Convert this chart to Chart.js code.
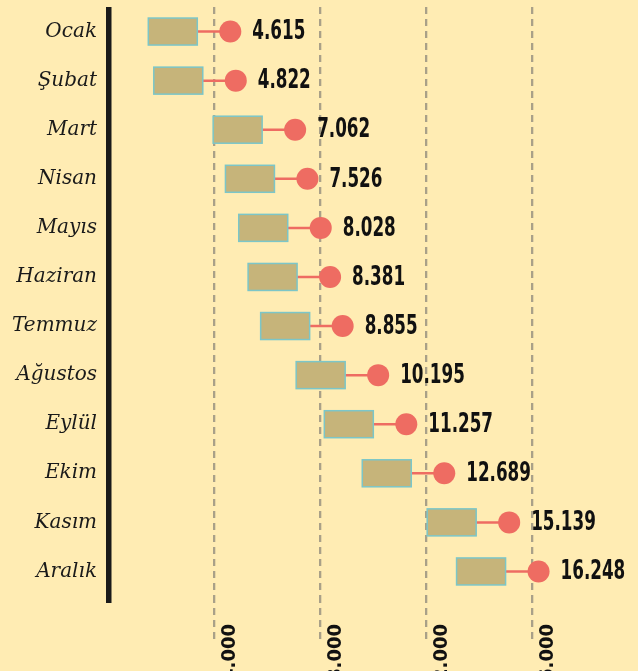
<!DOCTYPE html>
<html>
<head>
<meta charset="utf-8">
<script src="https://cdn.jsdelivr.net/npm/chart.js@4"></script>
<style>
html,body{margin:0;padding:0;background:#FFECB3;overflow:hidden;width:638px;height:671px;}
canvas{display:block;}
</style>
</head>
<body>
<canvas id="c" width="638" height="720"></canvas>
<script>
// ---- data ----
const months = ['Ocak','Şubat','Mart','Nisan','Mayıs','Haziran','Temmuz','Ağustos','Eylül','Ekim','Kasım','Aralık'];
const values = [4615, 4822, 7062, 7526, 8028, 8381, 8855, 10195, 11257, 12689, 15139, 16248];
const xTickValues = [4000, 8000, 12000, 16000];
const xMin = 0;
const xMax = 20000;

// ---- helpers ----
function fmt(n){ return String(Math.round(n)).replace(/\B(?=(\d{3})+(?!\d))/g, '.'); }
function avail(f){
  const c = document.createElement('canvas').getContext('2d');
  c.font = 'bold 40px monospace';
  const a = c.measureText('4.615 abcxyzWM').width;
  c.font = 'bold 40px "' + f + '", monospace';
  return c.measureText('4.615 abcxyzWM').width !== a;
}
const narrowCandidates = ['Liberation Sans Narrow','DejaVu Sans Condensed','Roboto Condensed','Open Sans Condensed'];
let NARROW = 'Liberation Sans';
for (const f of narrowCandidates){ if (avail(f)) { NARROW = f; break; } }
const narrowFam = '"' + NARROW + '", "Liberation Sans", sans-serif';

const DOT = '#EE6C62';
const BOX_FILL = '#C6B47A';
const BOX_EDGE = '#7CC6C8';
const GRID = '#A9A088';
const AXIS = '#1A1A1A';

const boxPlugin = {
  id: 'boxes',
  beforeDatasetsDraw(chart){
    const ctx = chart.ctx;
    const meta = chart.getDatasetMeta(0);
    ctx.save();
    meta.data.forEach(pt => {
      const x = pt.x, y = pt.y;
      ctx.setLineDash([]);
      ctx.strokeStyle = DOT;
      ctx.lineWidth = 2.5;
      ctx.beginPath();
      ctx.moveTo(x - 33, y);
      ctx.lineTo(x, y);
      ctx.stroke();
      ctx.fillStyle = BOX_FILL;
      ctx.fillRect(x - 82, y - 13.5, 49, 27);
      ctx.strokeStyle = BOX_EDGE;
      ctx.lineWidth = 1.5;
      ctx.strokeRect(x - 82, y - 13.5, 49, 27);
    });
    ctx.restore();
  },
  afterDatasetsDraw(chart){
    const ctx = chart.ctx;
    const meta = chart.getDatasetMeta(0);
    ctx.save();
    ctx.fillStyle = '#111111';
    ctx.font = 'bold 26px ' + narrowFam;
    ctx.textAlign = 'left';
    ctx.textBaseline = 'middle';
    const sx = Math.min(1, 53 / ctx.measureText('7.062').width);
    meta.data.forEach((pt, i) => {
      ctx.save();
      ctx.translate(pt.x + 22, pt.y + 1);
      ctx.scale(sx, 1);
      ctx.fillText(fmt(values[i]), 0, 0);
      ctx.restore();
    });
    // y axis rule (runs slightly past the last row)
    const a = chart.chartArea;
    ctx.fillStyle = AXIS;
    ctx.fillRect(a.left - 2, a.top, 5.5, a.bottom + 7 - a.top);
    ctx.restore();
  }
};

new Chart(document.getElementById('c'), {
  type: 'line',
  data: {
    labels: months,
    datasets: [{
      data: values,
      showLine: false,
      pointRadius: 11,
      pointHoverRadius: 11,
      pointBackgroundColor: DOT,
      pointBorderWidth: 0,
      pointBorderColor: DOT
    }]
  },
  plugins: [boxPlugin],
  options: {
    indexAxis: 'y',
    responsive: false,
    animation: false,
    events: [],
    layout: { autoPadding: false, padding: { top: 7, right: 0, left: 0, bottom: 0 } },
    plugins: { legend: { display: false }, tooltip: { enabled: false } },
    scales: {
      x: {
        type: 'linear',
        position: 'bottom',
        min: xMin,
        max: xMax,
        afterBuildTicks(scale){ scale.ticks = xTickValues.map(v => ({ value: v })); },
        afterFit(scale){ scale.height = 124; scale.paddingLeft = 0; scale.paddingRight = 0; },
        border: { display: false, dash: [7, 5], dashOffset: 0 },
        grid: {
          display: true,
          color: GRID,
          lineWidth: 2.3,
          drawTicks: true,
          tickLength: 44,
          tickColor: GRID,
          tickWidth: 2.3,
          tickBorderDash: [7, 5]
        },
        ticks: {
          minRotation: 90,
          maxRotation: 90,
          padding: -16,
          labelOffset: 16,
          color: '#111111',
          font: { family: narrowFam, size: 20, weight: 'bold' },
          callback: (v) => fmt(v)
        }
      },
      y: {
        type: 'category',
        offset: true,
        afterFit(scale){ scale.width = 108; scale.paddingTop = 0; scale.paddingBottom = 0; },
        border: { display: false },
        grid: { display: false, drawTicks: false },
        ticks: {
          padding: 11,
          color: AXIS,
          font: { family: '"DejaVu Serif", serif', size: 20, style: 'italic' }
        }
      }
    }
  }
});
</script>
</body>
</html>
